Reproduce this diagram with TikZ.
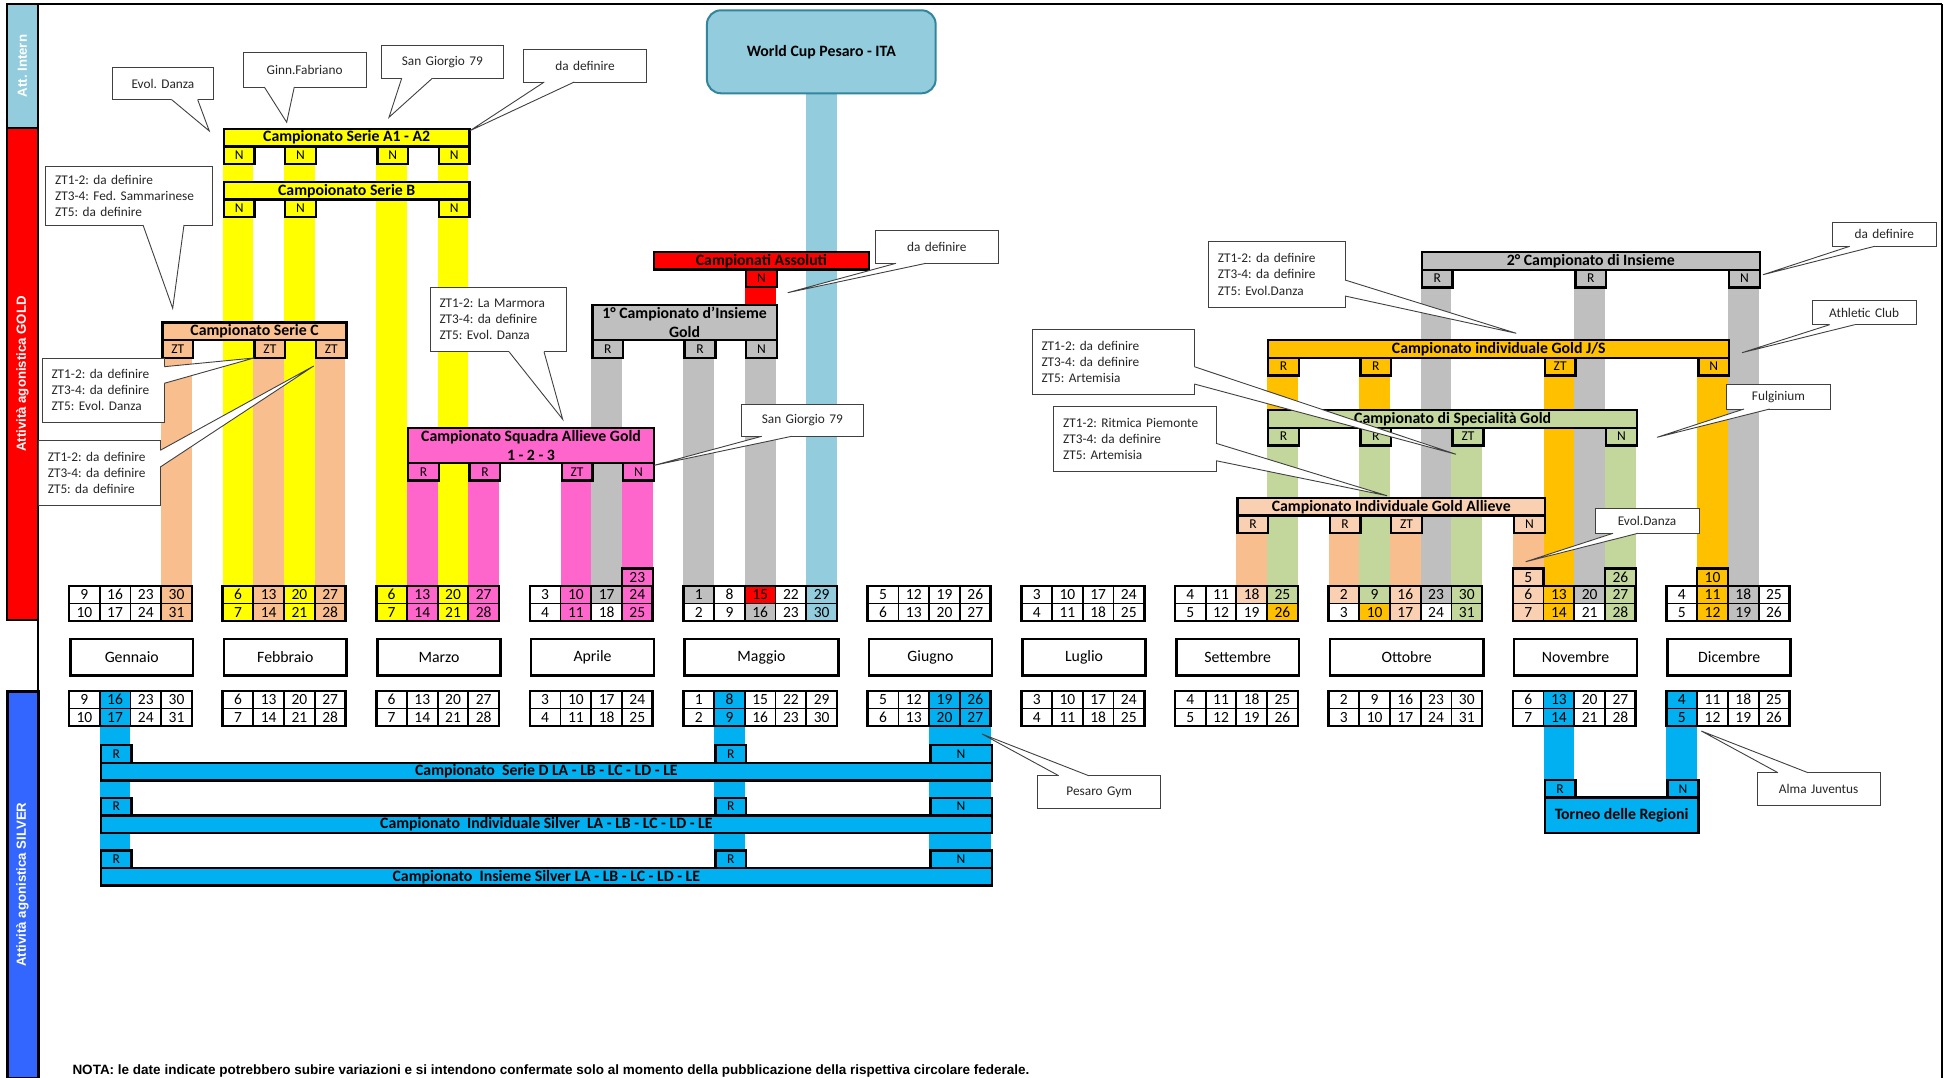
\documentclass[tikz,border=0pt]{standalone}
\usepackage{fontspec}
\setmainfont{Carlito}
\newfontfamily\arialfont{Liberation Sans}
\usepackage{tikz}
\frenchspacing

\definecolor{cYel}{HTML}{FFFF00}
\definecolor{cPeach}{HTML}{FAC090}
\definecolor{cPeachS}{HTML}{F8BE8E}
\definecolor{cPeachL}{HTML}{F9D0B1}
\definecolor{cPink}{HTML}{FF66CC}
\definecolor{cGrey}{HTML}{BFBFBF}
\definecolor{cRed}{HTML}{FF0000}
\definecolor{cLBlue}{HTML}{93CDDD}
\definecolor{cWCB}{HTML}{31859C}
\definecolor{cOrange}{HTML}{FFC000}
\definecolor{cGreen}{HTML}{C3D69B}
\definecolor{cSBlue}{HTML}{00B0F0}
\definecolor{cSide}{HTML}{3366FF}

% x of a calendar column
\newcommand{\cx}[1]{(69+(#1)*30.72)}
\newcommand{\stripe}[4]{\fill[fill=#4] ({\cx{#1}},#2) rectangle ({\cx{#1+1}},#3)}
% callout tails: node, base a, base b, tip
\newcommand{\tailB}[4]{%
  \fill[white] ([xshift=#2pt,yshift=1pt]#1.south west) -- ([xshift=#2pt]#1.south west) -- #4
    -- ([xshift=#3pt]#1.south west) -- ([xshift=#3pt,yshift=1pt]#1.south west) -- cycle;
  \draw[callline] ([xshift=#2pt]#1.south west) -- #4 -- ([xshift=#3pt]#1.south west);}
\newcommand{\tailR}[4]{%
  \fill[white] ([xshift=-1pt,yshift=-#2pt]#1.north east) -- ([yshift=-#2pt]#1.north east) -- #4
    -- ([yshift=-#3pt]#1.north east) -- ([xshift=-1pt,yshift=-#3pt]#1.north east) -- cycle;
  \draw[callline] ([yshift=-#2pt]#1.north east) -- #4 -- ([yshift=-#3pt]#1.north east);}
\newcommand{\tailT}[4]{%
  \fill[white] ([xshift=#2pt,yshift=-1pt]#1.north west) -- ([xshift=#2pt]#1.north west) -- #4
    -- ([xshift=#3pt]#1.north west) -- ([xshift=#3pt,yshift=-1pt]#1.north west) -- cycle;
  \draw[callline] ([xshift=#2pt]#1.north west) -- #4 -- ([xshift=#3pt]#1.north west);}

\tikzset{%
  hdr/.style = {draw, line width=2.4pt, anchor=north west, inner sep=0pt,
        minimum height=17.6pt, align=center,
        font=\fontsize{15.8}{19.5}\selectfont\bfseries},
  tag/.style = {draw, line width=2.4pt, anchor=north west, inner sep=0pt,
        minimum width=30.72pt, minimum height=17.6pt,
        font=\fontsize{13.5}{14}\selectfont},
  cols/.style = {minimum width={#1*30.72pt}},
  month/.style = {draw, line width=2.6pt, anchor=north west, inner sep=0pt,
        minimum height=36.3pt, font=\fontsize{15.8}{17}\selectfont},
  day/.style = {inner sep=0pt, font=\fontsize{15.5}{16}\selectfont},
  callbox/.style = {draw=black!75, fill=white, line width=0.9pt, anchor=north west,
        inner xsep=9.5pt, inner ysep=0pt, outer sep=0pt, text=black!85,
        font=\fontsize{13.3}{16.2}\selectfont},
  callline/.style = {draw=black!75, line width=0.9pt},
  side/.style = {draw, rotate=90, inner sep=0pt, minimum height=31pt, line width=2pt,
        text=white, font=\fontsize{13.2}{14}\selectfont\arialfont\bfseries},
  wcup/.style = {draw=cWCB, fill=cLBlue, line width=2pt, rounded corners=14pt,
        minimum width=228.7pt, minimum height=83pt,
        font=\fontsize{15.8}{17}\selectfont\bfseries}
}

\begin{document}
\begin{tikzpicture}[x=1pt, y=-1pt]
\useasboundingbox (0,0) rectangle (1944,1078);

% frame and side bars
\draw[line width=2pt] (7,4) -- (1942,4);
\draw[line width=2.6pt] (1942,4) -- (1942,1078);
\draw[line width=2pt] (38,4) -- (38,1078);
\node[side, fill=cLBlue, minimum width=124pt] (attintern) at (22.5,66) {Att. Intern};
\node[side, fill=cRed, minimum width=492pt] (attgold) at (22.5,374) {Attività agonistica GOLD};
\node[side, fill=cSide, minimum width=387pt, line width=3pt] (attsilver) at (22.5,884.5) {Attività agonistica SILVER};

% stripes
\foreach \c in {5,7,10,12} \stripe{\c}{145.3}{586}{cYel};
\foreach \c in {3,6,8} \stripe{\c}{338.9}{586}{cPeachS};
\foreach \c in {11,13,16} \stripe{\c}{461.7}{586}{cPink};
\stripe{18}{461.7}{568.5}{cPink};
\stripe{22}{268.4}{338.9}{cRed};
\foreach \c in {17,20,22} \stripe{\c}{338.9}{586}{cGrey};
\stripe{24}{93}{586}{cLBlue};
\foreach \c in {44,49,54} \stripe{\c}{268.6}{586}{cGrey};
\foreach \c in {39,42} \stripe{\c}{356.5}{409}{cOrange};
\stripe{48}{356.5}{586}{cOrange};
\stripe{53}{356.5}{568.5}{cOrange};
\foreach \c in {39,42,45} \stripe{\c}{426.6}{586}{cGreen};
\stripe{50}{426.6}{568.5}{cGreen};
\foreach \c in {38,41,43} \stripe{\c}{514.3}{586}{cPeachS};
\stripe{47}{514.3}{568.5}{cPeachS};
\foreach \c in {1,21,28,29} \stripe{\c}{726}{866.8}{cSBlue};
\foreach \c in {48,52} \stripe{\c}{726}{778.7}{cSBlue};

% coloured days
\foreach \c/\r/\k in {3/1/cPeachS,3/2/cPeachS,5/1/cYel,5/2/cYel,6/1/cPeachS,6/2/cPeachS,
    7/1/cYel,7/2/cYel,8/1/cPeachS,8/2/cPeachS,10/1/cYel,10/2/cYel,11/1/cPink,11/2/cPink,
    12/1/cYel,12/2/cYel,13/1/cPink,13/2/cPink,16/1/cPink,16/2/cPink,17/1/cGrey,
    18/1/cPink,18/2/cPink,20/1/cGrey,22/1/cRed,22/2/cGrey,24/1/cLBlue,24/2/cLBlue,
    38/1/cPeachL,39/1/cGreen,39/2/cOrange,41/1/cPeachL,42/1/cGreen,42/2/cOrange,
    43/1/cPeachL,43/2/cPeachL,44/1/cGrey,45/1/cGreen,45/2/cGreen,47/1/cPeachL,47/2/cPeachL,
    48/1/cOrange,48/2/cOrange,49/1/cGrey,50/1/cGreen,50/2/cGreen,53/1/cOrange,53/2/cOrange,
    54/1/cGrey,54/2/cGrey}
  \fill[fill=\k] ({\cx{\c}},{568.5+17.5*\r}) rectangle ++(30.72,17.5);
\foreach \c in {1,21,28,29,48,52}
  \fill[cSBlue] ({\cx{\c}},691) rectangle ++(30.72,35);

% calendars and months
\foreach \mc/\fd/\nw/\mn in {0/9/4/Gennaio,5/6/4/Febbraio,10/6/4/Marzo,15/3/4/Aprile,
    20/1/5/Maggio,26/5/4/Giugno,31/3/4/Luglio,36/4/4/Settembre,41/2/5/Ottobre,
    47/6/4/Novembre,52/4/4/Dicembre}{
  \node[month, cols=\nw] (\mn) at ({\cx{\mc}},637.7) {\mn};
  \foreach \k in {1,...,\nw}{
    \pgfmathtruncatemacro\da{\fd+7*(\k-1)}
    \pgfmathtruncatemacro\db{\da+1}
    \pgfmathsetmacro\xa{69+(\mc+\k-1)*30.72}
    \foreach \y/\pre in {586/gold,691/silver}{
      \draw[line width=1.8pt] (\xa,\y) rectangle ++(30.72,35) (\xa,{\y+17.5}) -- ++(30.72,0);
      \node[day] (\pre-\mn-\da) at ({\xa+15.36},{\y+8.75}) {\da};
      \node[day] (\pre-\mn-\db) at ({\xa+15.36},{\y+26.25}) {\db};
    }
  }
  \draw[line width=2.6pt] ({\cx{\mc}},586) rectangle ({\cx{\mc+\nw}},621);
  \draw[line width=2.6pt] ({\cx{\mc}},691) rectangle ({\cx{\mc+\nw}},726);
}
\foreach \c/\v/\k in {18/23/cPink,47/5/cPeachL,50/26/cGreen,53/10/cOrange}{
  \draw[line width=2.2pt, fill=\k] ({\cx{\c}},568.5) rectangle ++(30.72,17.5);
  \node[day] (extra-\v) at ({\cx{\c}+15.36},577.25) {\v};
}

% gold
\node[hdr, fill=cYel, cols=8] (serieA) at ({\cx{5}},127.7) {Campionato Serie A1 - A2};
\foreach \c [count=\i] in {5,7,10,12} \node[tag, fill=cYel] (serieA-\i) at ({\cx{\c}},145.3) {N};
\node[hdr, fill=cYel, cols=8] (serieB) at ({\cx{5}},180.7) {Campoionato Serie B};
\foreach \c [count=\i] in {5,7,12} \node[tag, fill=cYel] (serieB-\i) at ({\cx{\c}},198.3) {N};
\node[hdr, fill=cPeach, cols=6] (serieC) at ({\cx{3}},321.3) {Campionato Serie C};
\foreach \c [count=\i] in {3,6,8} \node[tag, fill=cPeachS] (serieC-\i) at ({\cx{\c}},338.9) {ZT};
\node[hdr, fill=cRed, cols=7] (assoluti) at ({\cx{19}},250.8) {Campionati Assoluti};
\node[tag, fill=cRed] (assoluti-1) at ({\cx{22}},268.4) {N};
\node[hdr, fill=cGrey, cols=6, minimum height=35.2pt] (insiemeG) at ({\cx{17}},303.7) {1° Campionato d{\char"27}Insieme\\Gold};
\foreach \c/\lb [count=\i] in {17/R,20/R,22/N} \node[tag, fill=cGrey] (insiemeG-\i) at ({\cx{\c}},338.9) {\lb};
\node[hdr, fill=cPink, cols=8, minimum height=35pt] (squadra) at ({\cx{11}},426.7) {Campionato Squadra Allieve Gold\\1 - 2 - 3};
\foreach \c/\lb [count=\i] in {11/R,13/R,16/ZT,18/N} \node[tag, fill=cPink] (squadra-\i) at ({\cx{\c}},461.7) {\lb};
\node[wcup] (worldcup) at (821.3,51.8) {World Cup Pesaro - ITA};
\node[hdr, fill=cGrey, cols=11] (insieme2) at ({\cx{44}},251) {2° Campionato di Insieme};
\foreach \c/\lb [count=\i] in {44/R,49/R,54/N} \node[tag, fill=cGrey] (insieme2-\i) at ({\cx{\c}},268.6) {\lb};
\node[hdr, fill=cOrange, cols=15] (goldJS) at ({\cx{39}},338.9) {Campionato individuale Gold J/S};
\foreach \c/\lb [count=\i] in {39/R,42/R,48/ZT,53/N} \node[tag, fill=cOrange] (goldJS-\i) at ({\cx{\c}},356.5) {\lb};
\node[hdr, fill=cGreen, cols=12] (special) at ({\cx{39}},409) {Campionato di Specialità Gold};
\foreach \c/\lb [count=\i] in {39/R,42/R,45/ZT,50/N} \node[tag, fill=cGreen] (special-\i) at ({\cx{\c}},426.6) {\lb};
\node[hdr, fill=cPeachL, cols=10] (allieve) at ({\cx{38}},496.7) {Campionato Individuale Gold Allieve};
\foreach \c/\lb [count=\i] in {38/R,41/R,43/ZT,47/N} \node[tag, fill=cPeachL] (allieve-\i) at ({\cx{\c}},514.3) {\lb};

% silver
\node[hdr, fill=cSBlue, cols=29] (serieD) at ({\cx{1}},761.6) {Campionato\ \ Serie D LA - LB - LC - LD - LE};
\node[hdr, fill=cSBlue, cols=29] (indSilver) at ({\cx{1}},814.2) {Campionato\ \ Individuale Silver\ \ LA - LB - LC - LD - LE};
\node[hdr, fill=cSBlue, cols=29] (insSilver) at ({\cx{1}},866.8) {Campionato\ \ Insieme Silver LA - LB - LC - LD - LE};
\foreach \nm/\y in {serieD/744,indSilver/796.6,insSilver/849.2}{
  \node[tag, fill=cSBlue] (\nm-1) at ({\cx{1}},\y) {R};
  \node[tag, fill=cSBlue] (\nm-2) at ({\cx{21}},\y) {R};
  \node[tag, fill=cSBlue, minimum width=61.44pt] (\nm-3) at ({\cx{28}},\y) {N};
}
\node[tag, fill=cSBlue] (torneo-1) at ({\cx{48}},778.7) {R};
\node[tag, fill=cSBlue] (torneo-2) at ({\cx{52}},778.7) {N};
\node[hdr, fill=cSBlue, cols=5, minimum height=35.7pt] (torneo) at ({\cx{48}},796.3) {Torneo delle Regioni};

% callouts
\node[callbox, text width=81.5pt, minimum height=32pt, align=center] (evolA) at (112.7,67.7) {Evol. Danza};
\tailB{evolA}{59}{85}{(209.3,131)}
\node[callbox, text width=103.7pt, minimum height=34.3pt, align=center] (fabriano) at (243.3,52.7) {Ginn.Fabriano};
\tailB{fabriano}{21}{51}{(286.7,122.3)}
\node[callbox, text width=103.7pt, minimum height=32.6pt, align=center] (sangiorgioA) at (381,45.7) {San Giorgio 79};
\tailB{sangiorgioA}{20.7}{51.3}{(389,117.3)}
\node[callbox, text width=103.6pt, minimum height=33pt, align=center] (definireA) at (523.7,49) {da definire};
\tailB{definireA}{20.6}{50.6}{(470,130.7)}
\node[callbox, text width=147.6pt, minimum height=58.3pt, align=left] (ztSerieC) at (45.7,166.7) {ZT1-2: da definire\\ZT3-4: Fed. Sammarinese\\ZT5: da definire};
\tailB{ztSerieC}{97.3}{138.3}{(172.7,308.3)}
\node[callbox, text width=103.3pt, minimum height=64.3pt, align=left] (ztEvolA) at (42,358) {ZT1-2: da definire\\ZT3-4: da definire\\ZT5: Evol. Danza};
\tailR{ztEvolA}{8.7}{25.3}{(254,358)}
\node[callbox, text width=103pt, minimum height=65.4pt, align=left] (ztDefinire) at (38.3,440.3) {ZT1-2: da definire\\ZT3-4: da definire\\ZT5: da definire};
\tailR{ztDefinire}{10}{26.7}{(313.7,366)}
\node[callbox, text width=117.3pt, minimum height=64.7pt, align=left] (marmora) at (430,287) {ZT1-2: La Marmora\\ZT3-4: da definire\\ZT5: Evol. Danza};
\tailB{marmora}{79}{114}{(562.7,419.3)}
\node[callbox, text width=103.7pt, minimum height=32.3pt, align=center] (sangiorgioB) at (741,404) {San Giorgio 79};
\tailB{sangiorgioB}{20.7}{50.7}{(654.3,465.3)}
\node[callbox, text width=104pt, minimum height=32.6pt, align=center] (definireB) at (875.3,230.7) {da definire};
\tailB{definireB}{20.7}{50.7}{(787.7,292.7)}
\node[callbox, text width=117.7pt, minimum height=65.3pt, align=left] (ztEvolB) at (1208.3,241.7) {ZT1-2: da definire\\ZT3-4: da definire\\ZT5: Evol.Danza};
\tailR{ztEvolB}{38.3}{54.3}{(1516.3,333.3)}
\node[callbox, text width=85pt, minimum height=24.3pt, align=center] (definireC) at (1832.3,222) {da definire};
\tailB{definireC}{17.4}{42.4}{(1763,274.7)}
\node[callbox, text width=85.3pt, minimum height=24pt, align=center] (athletic) at (1812,300.7) {Athletic Club};
\tailB{athletic}{17.7}{42.7}{(1742,352.7)}
\node[callbox, text width=143.3pt, minimum height=65.3pt, align=left] (ztArtemisia) at (1032,329) {ZT1-2: da definire\\ZT3-4: da definire\\ZT5: Artemisia};
\tailR{ztArtemisia}{37.7}{55}{(1456,454.3)}
\node[callbox, text width=143.3pt, minimum height=65.7pt, align=left] (ztPiemonte) at (1053.7,406) {ZT1-2: Ritmica Piemonte\\ZT3-4: da definire\\ZT5: Artemisia};
\tailR{ztPiemonte}{37.3}{54.7}{(1387,495.7)}
\node[callbox, text width=84.6pt, minimum height=24.7pt, align=center] (fulginium) at (1726.7,384.3) {Fulginium};
\tailB{fulginium}{17.3}{43}{(1657,437.3)}
\node[callbox, text width=85pt, minimum height=24.6pt, align=center] (evolB) at (1595,508.7) {Evol.Danza};
\tailB{evolB}{18}{43}{(1525.7,561.7)}
\node[callbox, text width=104pt, minimum height=32.6pt, align=center] (pesaro) at (1037.7,775.7) {Pesaro Gym};
\tailT{pesaro}{21}{51}{(982,734)}
\node[callbox, text width=103.7pt, minimum height=32.6pt, align=center] (alma) at (1757.3,772.7) {Alma Juventus};
\tailT{alma}{20.7}{50.7}{(1701.3,731)}

\node[anchor=base west, inner sep=0pt, font=\fontsize{13.5}{15}\selectfont\arialfont\bfseries] (nota) at (72.3,1074)
  {NOTA: le date indicate potrebbero subire variazioni e si intendono confermate solo al momento della pubblicazione della rispettiva circolare federale.};
\end{tikzpicture}
\end{document}
